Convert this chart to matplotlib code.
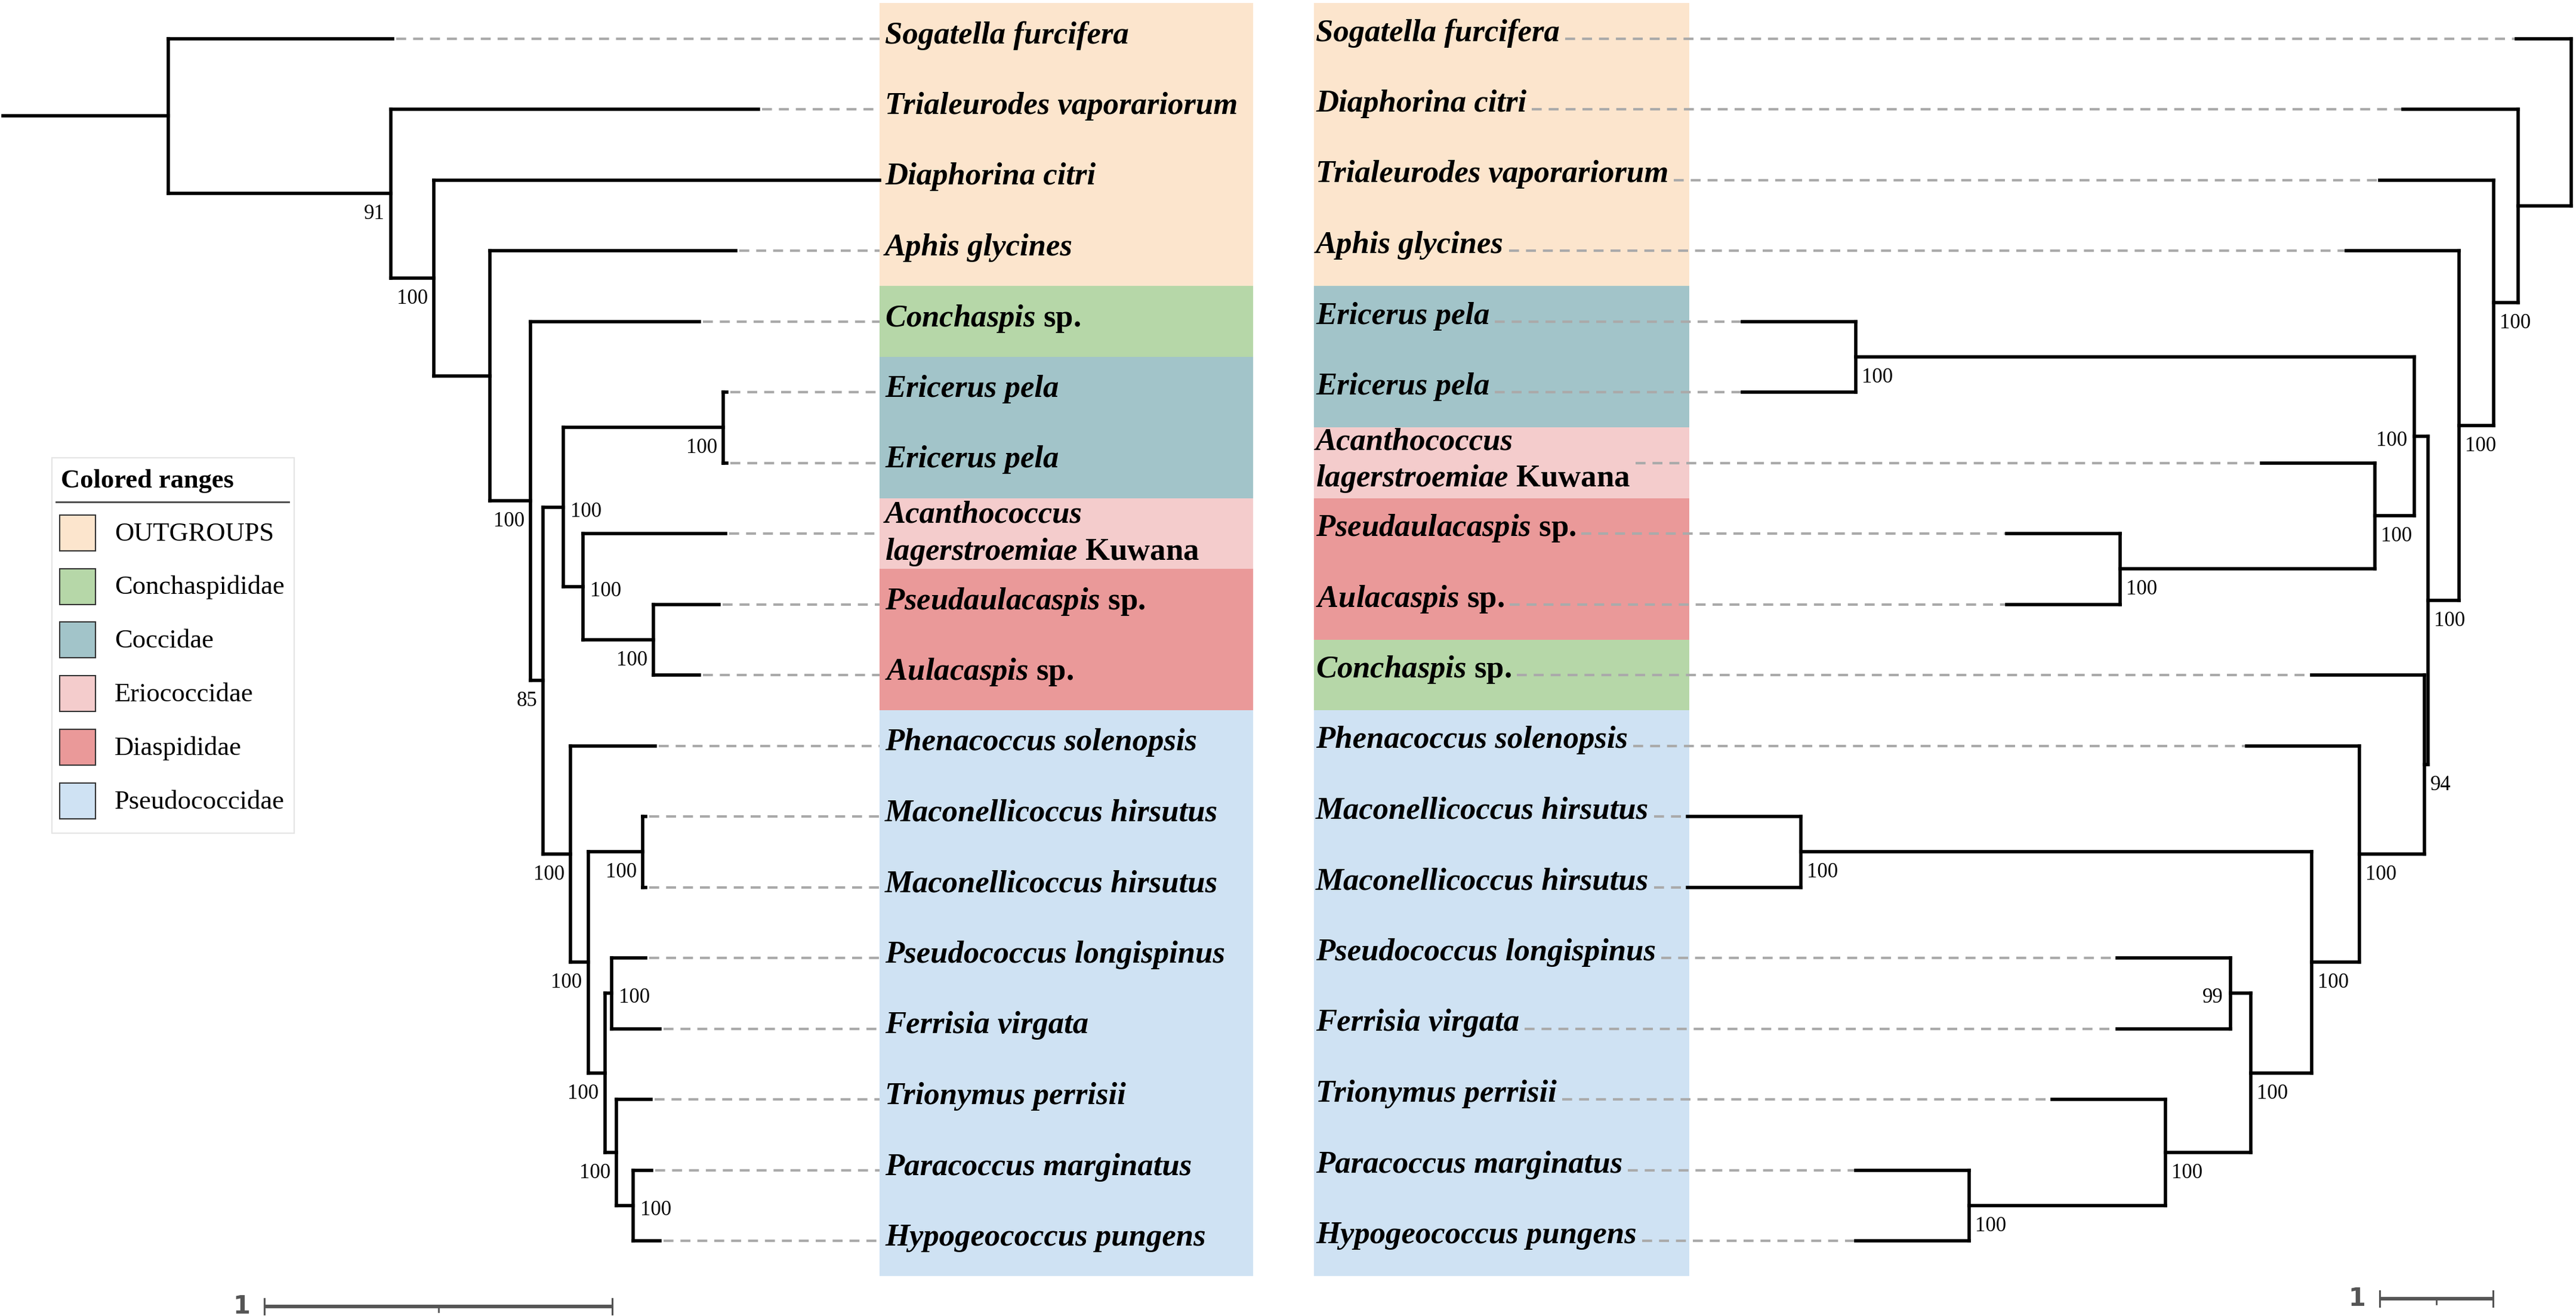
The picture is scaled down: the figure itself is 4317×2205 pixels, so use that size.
import matplotlib.pyplot as plt
from matplotlib.patches import Rectangle

plt.rcParams['mathtext.fontset'] = 'custom'
plt.rcParams['mathtext.rm'] = 'Liberation Serif:bold'
plt.rcParams['mathtext.it'] = 'Liberation Serif:italic:bold'
plt.rcParams['mathtext.bf'] = 'Liberation Serif:bold'

W, H, DPI = 4317, 2205, 100

# families (colored ranges)
family_names = ["OUTGROUPS", "Conchaspididae", "Coccidae",
                "Eriococcidae", "Diaspididae", "Pseudococcidae"]
family_colors = ["#fce5cd", "#b6d7a8", "#a2c4c9",
                 "#f4cccc", "#ea9999", "#cfe2f3"]

tip_family = {
    "Sogatella furcifera": "OUTGROUPS",
    "Trialeurodes vaporariorum": "OUTGROUPS",
    "Diaphorina citri": "OUTGROUPS",
    "Aphis glycines": "OUTGROUPS",
    "Conchaspis sp.": "Conchaspididae",
    "Ericerus pela": "Coccidae",
    "Acanthococcus lagerstroemiae Kuwana": "Eriococcidae",
    "Pseudaulacaspis sp.": "Diaspididae",
    "Aulacaspis sp.": "Diaspididae",
    "Phenacoccus solenopsis": "Pseudococcidae",
    "Maconellicoccus hirsutus": "Pseudococcidae",
    "Pseudococcus longispinus": "Pseudococcidae",
    "Ferrisia virgata": "Pseudococcidae",
    "Trionymus perrisii": "Pseudococcidae",
    "Paracoccus marginatus": "Pseudococcidae",
    "Hypogeococcus pungens": "Pseudococcidae",
}

# trees: tip = (name, branch length); node = (support, branch length, child, child)
left_tree = (None, 0.475,
    ("Sogatella furcifera", 0.645),
    (91, 0.640,
        ("Trialeurodes vaporariorum", 1.056),
        (100, 0.123,
            ("Diaphorina citri", 1.282),
            (None, 0.161,
                ("Aphis glycines", 0.708),
                (100, 0.118,
                    ("Conchaspis sp.", 0.484),
                    (85, 0.036,
                        (100, 0.058,
                            (100, 0.460, ("Ericerus pela", 0.01), ("Ericerus pela", 0.01)),
                            (100, 0.057,
                                ("Acanthococcus lagerstroemiae Kuwana", 0.410),
                                (100, 0.202, ("Pseudaulacaspis sp.", 0.189), ("Aulacaspis sp.", 0.131)))),
                        (100, 0.079,
                            ("Phenacoccus solenopsis", 0.242),
                            (100, 0.050,
                                (100, 0.157, ("Maconellicoccus hirsutus", 0.008),
                                 ("Maconellicoccus hirsutus", 0.008)),
                                (100, 0.048,
                                    (100, 0.020, ("Pseudococcus longispinus", 0.098),
                                     ("Ferrisia virgata", 0.139)),
                                    (100, 0.034,
                                        ("Trionymus perrisii", 0.098),
                                        (100, 0.048, ("Paracoccus marginatus", 0.053),
                                         ("Hypogeococcus pungens", 0.077))))))))))))

right_tree = (None, 0.0,
    ("Sogatella furcifera", 0.484),
    (None, 0.468,
        ("Diaphorina citri", 1.016),
        (100, 0.216,
            ("Trialeurodes vaporariorum", 1.005),
            (100, 0.305,
                ("Aphis glycines", 0.995),
                (100, 0.274,
                    (100, 0.121,
                        (100, 4.927, ("Ericerus pela", 1.0), ("Ericerus pela", 1.0)),
                        (100, 0.348,
                            ("Acanthococcus lagerstroemiae Kuwana", 1.0),
                            (100, 2.247, ("Pseudaulacaspis sp.", 1.0), ("Aulacaspis sp.", 1.0)))),
                    (94, 0.034,
                        ("Conchaspis sp.", 0.992),
                        (100, 0.571,
                            ("Phenacoccus solenopsis", 0.995),
                            (100, 0.421,
                                (100, 4.506, ("Maconellicoccus hirsutus", 1.0),
                                 ("Maconellicoccus hirsutus", 1.0)),
                                (100, 0.537,
                                    (99, 0.179, ("Pseudococcus longispinus", 1.0),
                                     ("Ferrisia virgata", 1.0)),
                                    (100, 0.753,
                                        ("Trionymus perrisii", 1.0),
                                        (100, 1.732, ("Paracoccus marginatus", 1.0),
                                         ("Hypogeococcus pungens", 1.0))))))))))))

# internal nodes (preorder index) whose support sits beside the node
left_beside = [6, 8, 14, 16]
right_beside = [5, 14]

# layout in pixels
ROW0, ROWH = 64.5, 118.5
L_X0, L_SCALE = 5, 583        # left tree: stem start, px per unit
R_X0, R_SCALE = 4309, 190     # right tree: root, px per unit (grows leftwards)
BOX_L = (1474, 2100)
BOX_R = (2202, 2831)
PT = 72 / DPI


def row_px(r):
    return ROW0 + ROWH * r


def walk(node, parent_x, out, cnt):
    if len(node) == 2:
        name, length = node
        r = cnt['row']
        cnt['row'] += 1
        out['tips'].append((name, parent_x + length, r, parent_x))
        return r
    support, length, *kids = node
    x = parent_x + length
    idx = cnt['node']
    cnt['node'] += 1
    ys = [walk(k, x, out, cnt) for k in kids]
    y = (ys[0] + ys[-1]) / 2
    out['nodes'].append((idx, support, x, y, parent_x, ys[0], ys[-1]))
    return y


def layout(tree):
    out = {'tips': [], 'nodes': []}
    walk(tree, 0.0, out, {'row': 0, 'node': 0})
    return out


def display_lines(name):
    if name.endswith(" sp."):
        return [name[:-4] + r" $\mathrm{sp.}$"]
    if name.endswith(" Kuwana"):
        g, s, _ = name.split()
        return [g, s + r" $\mathrm{Kuwana}$"]
    return [name]


fig = plt.figure(figsize=(W / DPI, H / DPI), dpi=DPI)
ax = fig.add_axes([0, 0, 1, 1])
ax.set_xlim(0, W)
ax.set_ylim(H, 0)
ax.axis('off')

row_lim = ((H - ROW0) / ROWH, -ROW0 / ROWH)
axl = fig.add_axes([0, 0, 1, 1])
axl.set_xlim(-L_X0 / L_SCALE, (W - L_X0) / L_SCALE)
axl.set_ylim(*row_lim)
axr = fig.add_axes([0, 0, 1, 1])
axr.set_xlim(R_X0 / R_SCALE, (R_X0 - W) / R_SCALE)
axr.set_ylim(*row_lim)
for a in (axl, axr):
    a.axis('off')
    a.set_facecolor('none')

col_of = dict(zip(family_names, family_colors))
line_kw = dict(color='black', lw=4, solid_capstyle='projecting', zorder=3)
dash_kw = dict(color='#aaaaaa', lw=3, linestyle=(0, (4, 2.8)), zorder=2)
sup_kw = dict(family='Liberation Serif', fontsize=25, textcoords='offset points', va='baseline')
name_kw = dict(family='Liberation Serif', fontsize=38, fontweight='bold', fontstyle='italic', va='baseline')


def draw_tree(axt, lay, beside, side):
    # side = +1: tree grows to the right on screen, -1: to the left
    for name, x, r, px in lay['tips']:
        axt.plot([px, x], [r, r], **line_kw)
    for idx, sup, x, y, px, y0, y1 in lay['nodes']:
        if x > px:
            axt.plot([px, x], [y, y], **line_kw)
        axt.plot([x, x], [y0, y1], **line_kw)
        if sup is None:
            continue
        if idx in beside:
            dx, dy, ha = 12 * side, -16, ('left' if side > 0 else 'right')
        else:
            dx, dy, ha = -10 * side, -43, ('right' if side > 0 else 'left')
        axt.annotate(str(sup), (x, y), xytext=(dx * PT, dy * PT), ha=ha, **sup_kw)


def draw_boxes(lay, box):
    fams = [tip_family[t[0]] for t in lay['tips']]
    start = 0
    for i in range(1, len(fams) + 1):
        if i == len(fams) or fams[i] != fams[start]:
            ax.add_patch(Rectangle((box[0], row_px(start - 0.5)), box[1] - box[0],
                                   ROWH * (i - start), fc=col_of[fams[start]], ec='none', zorder=0))
            start = i


def draw_names(lay, x, base):
    texts = []
    for name, _, r, _ in lay['tips']:
        lines = display_lines(name)
        n = len(lines)
        shift = 5 if n > 1 else 0
        ts = []
        for k, s in enumerate(lines):
            y = row_px(r) + base + shift + (k - (n - 1) / 2) * 62
            ts.append(ax.text(x, y, s, ha='left', **name_kw))
        texts.append(ts)
    return texts


lay_l = layout(left_tree)
lay_r = layout(right_tree)

draw_boxes(lay_l, BOX_L)
draw_boxes(lay_r, BOX_R)
draw_tree(axl, lay_l, left_beside, 1)
draw_tree(axr, lay_r, right_beside, -1)
draw_names(lay_l, BOX_L[0] + 9, 8)
r_texts = draw_names(lay_r, BOX_R[0] + 3, 4)

# left leaders: tip -> label box
box_l_unit = (BOX_L[0] - L_X0) / L_SCALE
for name, x, r, _ in lay_l['tips']:
    if x < box_l_unit:
        axl.plot([x + 6 / L_SCALE, box_l_unit], [r, r], **dash_kw)

# right leaders: end of label text -> tip
fig.canvas.draw()
rend = fig.canvas.get_renderer()
inv = axr.transData.inverted()
for (name, x, r, _), ts in zip(lay_r['tips'], r_texts):
    xmax = max(t.get_window_extent(rend).x1 for t in ts)
    x_start = inv.transform((xmax + 9, 0))[0]
    axr.plot([x_start, x], [r, r], **dash_kw)

# scale bars
bar_kw = dict(color='#555555', lw=4.3, solid_capstyle='butt')
for axt, x_px, y_px, scale, x0, sgn in [(axl, 443, 2189, L_SCALE, L_X0, 1),
                                         (axr, 4178, 2176, R_SCALE, R_X0, -1)]:
    xs = (x_px - x0) / scale * sgn
    r = (y_px - ROW0) / ROWH
    t = 13 / ROWH
    axt.plot([xs, xs + 1], [r, r], **bar_kw)
    for xe in (xs, xs + 1):
        axt.plot([xe, xe], [r - t, r + t], color='#555555', lw=2.2)
    axt.plot([xs + 0.5, xs + 0.5], [r, r + 9 / ROWH], color='#555555', lw=2)
    left_end = min(xs, xs + 1) if sgn > 0 else max(xs, xs + 1)
    axt.annotate("1", (left_end, r), xytext=(-24 * PT, 0), textcoords='offset points',
                 ha='right', va='center', fontsize=30, fontweight='bold',
                 family='DejaVu Sans', color='#555555')

# legend
ax.add_patch(Rectangle((87, 767), 406, 629, fc='white', ec='#e4e4e4', lw=1.5, zorder=1))
ax.text(102, 817, "Colored ranges", family='Liberation Serif', fontsize=32,
        fontweight='bold', va='baseline', zorder=2)
ax.plot([94, 484], [841, 841], color='#444444', lw=2, zorder=2)
for k, (fam, col) in enumerate(zip(family_names, family_colors)):
    cy = 892.7 + 89.8 * k
    ax.add_patch(Rectangle((100, cy - 30), 60, 60, fc=col, ec='#333333', lw=1.5, zorder=2))
    ax.text(192, cy + 13, fam, family='Liberation Serif', fontsize=32, va='baseline', zorder=2)

fig.savefig("out.png", dpi=DPI)
